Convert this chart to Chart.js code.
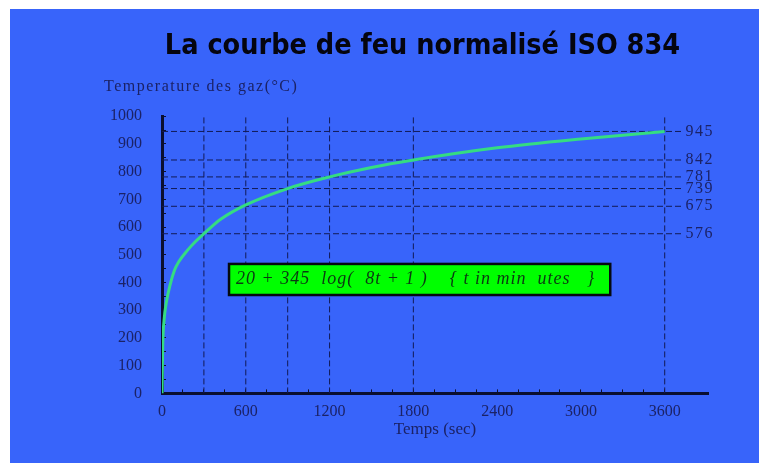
<!DOCTYPE html>
<html lang="fr">
  <head>
    <meta charset="UTF-8" />
    <title>La courbe de feu normalisé ISO 834</title>
    <script src="https://cdn.jsdelivr.net/npm/chart.js"></script>
    <style>
      body {
        margin: 0;
        background-color: #fff;
      }
      .panel {
        position: absolute;
        left: 10px;
        top: 9px;
        width: 749px;
        height: 454px;
        background-color: #3864fa;
      }
      .chart-box {
        position: absolute;
        left: 86px;
        top: 9px;
        width: 673px;
        height: 454px;
      }
    </style>
  </head>
  <body>
    <div class="panel"></div>
    <div class="chart-box">
      <canvas id="fireChart" width="673" height="454"></canvas>
    </div>

    <script>
      // courbe
      const timeSec = [0, 5, 15, 30, 60, 90, 120, 180, 240, 300, 420, 600, 900, 1200, 1500, 1800, 2400, 3000, 3600];
      const tempC = [0, 170, 265, 325, 395, 445, 475, 515, 548, 576, 628, 680, 739, 781, 815, 842, 886, 918, 945];

      // lignes de repere
      const levelMarks = [576, 675, 739, 781, 842, 945];
      const timeMarks = [300, 600, 900, 1200, 1800, 3600];

      const xTickLabels = [0, 600, 1200, 1800, 2400, 3000, 3600];
      const yTickLabels = [0, 100, 200, 300, 400, 500, 600, 700, 800, 900, 1000];

      const formula = "20 + 345  log(  8t + 1 )    { t in min  utes   }";
      const yTitle = "Temperature des gaz(°C)";

      const navy = "#1b2266";
      const guideColor = "#121a55";
      const axisColor = "#0a0f30";
      const guideEnd = 3720;

      const hGuides = [];
      levelMarks.forEach((v) => {
        hGuides.push({ x: 0, y: v }, { x: guideEnd, y: v }, { x: guideEnd, y: null });
      });
      const vGuides = [];
      timeMarks.forEach((t) => {
        vGuides.push({ x: t, y: 0 }, { x: t, y: 1000 }, { x: t, y: null });
      });

      // graduations mineures
      function stepTicks(scale, step, last) {
        const ticks = [];
        for (let v = 0; v <= last; v += step) ticks.push({ value: v });
        scale.ticks = ticks;
      }

      const extras = {
        id: "extras",
        afterDatasetsDraw(chart) {
          const { ctx, scales } = chart;
          const x = scales.x;
          const y = scales.y;
          ctx.save();
          ctx.letterSpacing = "1.5px";
          ctx.font = "16px 'Liberation Serif'";
          ctx.fillStyle = navy;
          ctx.textBaseline = "middle";
          ctx.textAlign = "left";
          ctx.fillText(yTitle, x.left - 58, y.top - 29);
          levelMarks.forEach((v) => {
            ctx.fillText(String(v), x.getPixelForValue(guideEnd) + 4, y.getPixelForValue(v));
          });
          // encadre de la formule
          const left = x.getPixelForValue(480);
          const right = x.getPixelForValue(3210);
          const top = y.getPixelForValue(467);
          const bottom = y.getPixelForValue(355);
          ctx.fillStyle = "#00ff00";
          ctx.fillRect(left, top, right - left, bottom - top);
          ctx.lineWidth = 2.5;
          ctx.strokeStyle = "#050a10";
          ctx.strokeRect(left, top, right - left, bottom - top);
          ctx.font = "italic 18px 'Liberation Serif'";
          ctx.fillStyle = "#0b3a12";
          ctx.letterSpacing = "1px";
          ctx.fillText(formula, left + 7, (top + bottom) / 2);
          ctx.restore();
        },
      };

      const axisFont = { family: "'Liberation Serif'", size: 16 };

      new Chart(document.getElementById("fireChart"), {
        type: "line",
        data: {
          datasets: [
            {
              data: timeSec.map((t, i) => ({ x: t, y: tempC[i] })),
              borderColor: "#35dc82",
              borderWidth: 3,
              pointRadius: 0,
              cubicInterpolationMode: "monotone",
            },
            {
              data: hGuides,
              borderColor: guideColor,
              borderWidth: 1,
              borderDash: [6, 3],
              pointRadius: 0,
              spanGaps: false,
            },
            {
              data: vGuides,
              borderColor: guideColor,
              borderWidth: 1,
              borderDash: [6, 3],
              pointRadius: 0,
              spanGaps: false,
            },
          ],
        },
        options: {
          responsive: false,
          animation: false,
          layout: {
            padding: { left: 16, right: 16, bottom: 23 },
          },
          plugins: {
            legend: { display: false },
            tooltip: { enabled: false },
            title: {
              display: true,
              text: "La courbe de feu normalisé ISO 834",
              color: "#05050f",
              font: { family: "'DejaVu Sans Condensed'", size: 28.5, weight: "bold" },
              padding: { top: 20, bottom: 53 },
            },
          },
          scales: {
            x: {
              type: "linear",
              min: 0,
              max: 3910,
              afterBuildTicks: (scale) => stepTicks(scale, 150, 3600),
              ticks: {
                autoSkip: false,
                maxRotation: 0,
                padding: 13,
                color: navy,
                font: axisFont,
                callback: (v) => (xTickLabels.includes(v) ? String(v) : ""),
              },
              grid: {
                drawOnChartArea: false,
                tickLength: -4,
                tickColor: axisColor,
                tickWidth: 1,
              },
              border: { color: axisColor, width: 3 },
              title: {
                display: true,
                text: "Temps (sec)",
                color: navy,
                font: { family: "'Liberation Serif'", size: 17 },
                padding: { top: -15, bottom: 0 },
              },
            },
            y: {
              min: 0,
              max: 1000,
              afterBuildTicks: (scale) => stepTicks(scale, 50, 1000),
              afterFit(scale) {
                scale.width = 60;
              },
              ticks: {
                autoSkip: false,
                padding: 24,
                color: navy,
                font: axisFont,
                callback: (v) => (yTickLabels.includes(v) ? String(v) : ""),
              },
              grid: {
                drawOnChartArea: false,
                tickLength: -4,
                tickColor: axisColor,
                tickWidth: 1,
              },
              border: { color: axisColor, width: 3 },
            },
            // marge droite, garde le titre centre comme l'original
            y2: {
              position: "right",
              display: true,
              afterFit(scale) {
                scale.width = 35;
              },
              ticks: { display: false },
              grid: { display: false },
              border: { display: false },
            },
          },
        },
        plugins: [extras],
      });
    </script>
  </body>
</html>
